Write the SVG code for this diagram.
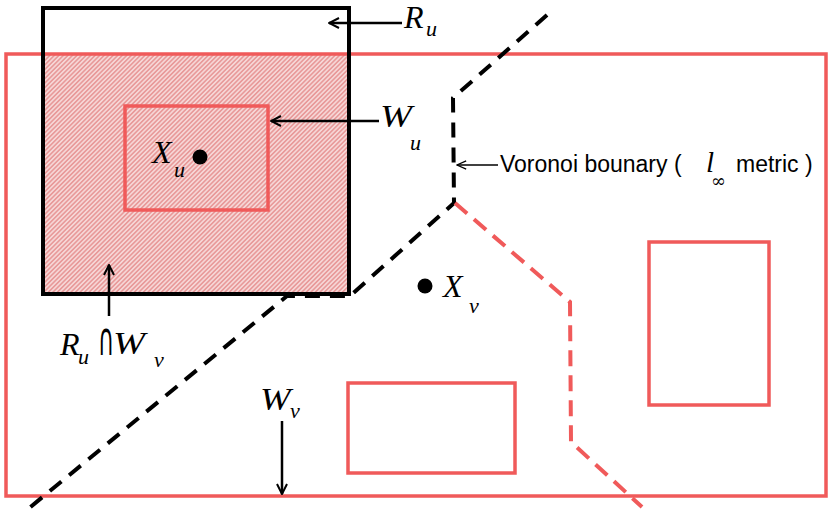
<svg xmlns="http://www.w3.org/2000/svg" width="828" height="509" viewBox="0 0 828 509">
<style>
.red{fill:none;stroke:#F05A5A;stroke-width:3.5}
.blk{fill:none;stroke:#000;stroke-width:4}
.dashk{fill:none;stroke:#000;stroke-width:4;stroke-dasharray:15 10}
.dashr{fill:none;stroke:#F05A5A;stroke-width:4;stroke-dasharray:16 9}
.arr{fill:none;stroke:#000;stroke-width:2.5}
.math{font-family:"Liberation Serif","Times New Roman",serif;font-style:italic;fill:#000}
.big{font-size:32px}
.sub{font-size:22px}
.sans{font-family:"Liberation Sans",Arial,sans-serif;font-size:23px;fill:#000}
</style>
<defs>
<pattern id="hatch" width="3.2" height="3.2" patternUnits="userSpaceOnUse" patternTransform="rotate(45)">
<rect width="3.2" height="3.2" fill="#F6D6D6"/>
<line x1="0.8" y1="0" x2="0.8" y2="3.2" stroke="#E27E7E" stroke-width="1.1"/>
</pattern>
<marker id="open" viewBox="0 0 12 12" refX="11" refY="6" markerWidth="12" markerHeight="12" markerUnits="userSpaceOnUse" orient="auto">
<path d="M1,1 L11,6 L1,11" fill="none" stroke="#000" stroke-width="2"/>
</marker>
<marker id="thin" viewBox="0 0 12 12" refX="11" refY="6" markerWidth="11" markerHeight="11" markerUnits="userSpaceOnUse" orient="auto">
<path d="M1,1.5 L11,6 L1,10.5" fill="none" stroke="#000" stroke-width="1.4"/>
</marker>
</defs>
<rect width="828" height="509" fill="#fff"/>

<g id="intersection">
<rect x="43" y="54" width="306" height="240" fill="url(#hatch)"/>
</g>

<g id="Wv">
<rect class="red" x="6" y="54" width="820" height="442"/>
</g>

<g id="obstacle1">
<rect class="red" x="348" y="383" width="167" height="90"/>
</g>
<g id="obstacle2">
<rect class="red" x="649" y="242" width="120" height="163"/>
</g>

<g id="connectors">
<path class="dashk" d="M547,15 L453,98 L454,203 L350,296 L287,296 L28,509"/>
<path class="dashr" d="M455,203 L570,302 L571,442 L642,507"/>
<line class="arr" x1="402" y1="23" x2="329" y2="23" marker-end="url(#open)"/>
<line class="arr" x1="379" y1="121" x2="271" y2="121" marker-end="url(#open)"/>
<line class="arr" x1="109" y1="316" x2="109" y2="265" marker-end="url(#open)"/>
<line class="arr" x1="282" y1="421" x2="282" y2="494" marker-end="url(#open)"/>
<line x1="498" y1="165" x2="457" y2="165" stroke="#000" stroke-width="1.4" marker-end="url(#thin)"/>
</g>

<g id="Ru">
<rect class="blk" x="43" y="8" width="306" height="286"/>
<text class="math big" x="404" y="28">R</text>
<text class="math sub" x="426" y="36">u</text>
</g>

<g id="Wu">
<rect class="red" x="125" y="106" width="143" height="104"/>
<text class="math big" transform="translate(380,127) scale(1.2,1)">W</text>
<text class="math sub" x="410" y="150">u</text>
</g>

<g id="Xu">
<circle cx="200" cy="157" r="7.5" fill="#000"/>
<text class="math big" x="152" y="163">X</text>
<text class="math sub" x="174" y="177">u</text>
</g>

<g id="Xv">
<circle cx="425" cy="286" r="7.5" fill="#000"/>
<text class="math big" x="443" y="297">X</text>
<text class="math sub" x="469" y="313">v</text>
</g>

<g id="label-intersection">
<text class="math big" x="60" y="355">R</text>
<text class="math sub" x="78" y="364">u</text>
<text font-family="'DejaVu Sans',sans-serif" font-size="40" transform="translate(98,355) scale(0.55,1.15)">∩</text>
<text class="math big" transform="translate(113,354) scale(1.2,1)">W</text>
<text class="math sub" x="154" y="367">v</text>
</g>

<g id="label-Wv">
<text class="math big" transform="translate(260,410) scale(1.15,1)">W</text>
<text class="math sub" x="290" y="418">v</text>
</g>

<g id="label-voronoi">
<text class="sans" x="500" y="172">Voronoi bounary (</text>
<text class="math" font-size="29" x="706" y="172">l</text>
<text font-family="'DejaVu Serif',serif" font-size="18" x="711" y="187">∞</text>
<text class="sans" x="736" y="172">metric )</text>
</g>
</svg>
